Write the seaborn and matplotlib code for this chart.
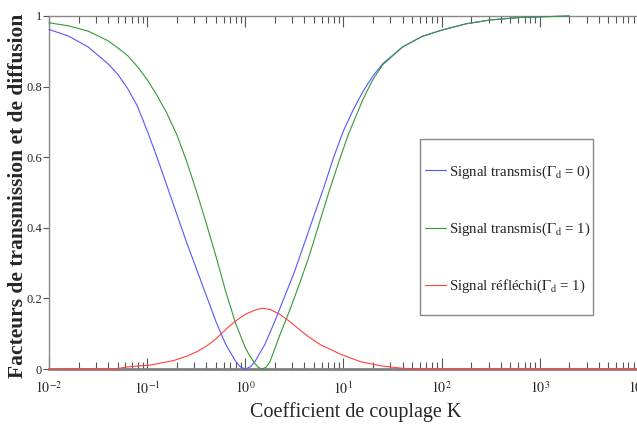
import numpy as np
import matplotlib
matplotlib.use("Agg")
import matplotlib.pyplot as plt
import seaborn as sns
from matplotlib.patches import Rectangle
from matplotlib.ticker import FixedLocator, NullFormatter

# values (x given as log10 of K)
logk_blue = [-2.0, -1.8, -1.6, -1.4, -1.3, -1.2, -1.1, -1.0, -0.9, -0.8, -0.7, -0.6,
             -0.5, -0.4, -0.3, -0.2, -0.1, -0.05, 0.0, 0.05, 0.1, 0.2, 0.3, 0.4, 0.5,
             0.6, 0.7, 0.8, 0.9, 1.0, 1.1, 1.2, 1.3, 1.4, 1.6, 1.8, 2.0, 2.25, 2.5,
             2.8, 3.3]
t_blue = [0.962, 0.943, 0.912, 0.865, 0.835, 0.795, 0.745, 0.675, 0.60, 0.52, 0.44, 0.36,
          0.285, 0.21, 0.135, 0.07, 0.022, 0.006, 0.0, 0.006, 0.022, 0.07, 0.135, 0.205,
          0.275, 0.355, 0.435, 0.515, 0.60, 0.675, 0.735, 0.787, 0.83, 0.865, 0.912,
          0.942, 0.96, 0.978, 0.989, 0.996, 1.0]

logk_green = [-2.0, -1.8, -1.6, -1.4, -1.3, -1.2, -1.1, -1.0, -0.9, -0.8, -0.7, -0.6,
              -0.5, -0.4, -0.3, -0.2, -0.1, 0.0, 0.05, 0.1, 0.13, 0.17, 0.21, 0.25,
              0.35, 0.45, 0.55, 0.65, 0.75, 0.85, 0.95, 1.05, 1.2, 1.3, 1.4, 1.6, 1.8,
              2.0, 2.25, 2.5, 2.8, 3.3]
t_green = [0.981, 0.972, 0.957, 0.930, 0.91, 0.888, 0.857, 0.82, 0.775, 0.725, 0.665,
           0.59, 0.505, 0.415, 0.32, 0.22, 0.13, 0.06, 0.035, 0.015, 0.005, 0.0, 0.005,
           0.02, 0.095, 0.165, 0.24, 0.32, 0.41, 0.50, 0.585, 0.665, 0.765, 0.82, 0.862,
           0.912, 0.942, 0.96, 0.978, 0.989, 0.996, 1.0]

logk_red = [-2.0, -1.33, -1.2, -0.97, -0.73, -0.6, -0.5, -0.4, -0.3, -0.2, -0.1, 0.0,
            0.1, 0.17, 0.25, 0.35, 0.45, 0.55, 0.65, 0.77, 0.97, 1.17, 1.38, 1.6, 1.8, 4.0]
r_red = [0.0, 0.0, 0.006, 0.011, 0.024, 0.036, 0.048, 0.064, 0.085, 0.112, 0.136, 0.155,
         0.167, 0.172, 0.169, 0.155, 0.135, 0.112, 0.09, 0.068, 0.042, 0.021, 0.009, 0.002, 0.0, 0.0]

labels = [r"Signal transmis($\Gamma_{\mathrm{d}}$ = 0)",
          r"Signal transmis($\Gamma_{\mathrm{d}}$ = 1)",
          r"Signal réfléchi($\Gamma_{\mathrm{d}}$ = 1)"]
colors = ["#5656ff", "#339a33", "#ff4040"]

sns.set_theme(style="white")
plt.rcParams["font.family"] = ["Liberation Serif", "DejaVu Serif"]
plt.rcParams["mathtext.fontset"] = "stix"

fig = plt.figure(figsize=(6.37, 4.32), dpi=100)
ax = fig.add_axes([49 / 637, 63 / 432, 589 / 637, 353 / 432])

series = [(logk_blue, t_blue), (logk_green, t_green), (logk_red, r_red)]
for (lk, vals), col, lab in zip(series, colors, labels):
    sns.lineplot(x=10 ** np.array(lk), y=vals, ax=ax, color=col, lw=0.8,
                 label=lab, sort=True)
# lines sit on top of the axis frame, like in the original
for line in ax.get_lines():
    line.set_zorder(3)
    line.set_clip_on(False)

ax.set_xscale("log")
ax.set_xlim(1e-2, 1e4)
ax.set_ylim(0, 1)

ax.xaxis.set_major_locator(FixedLocator([1e-2, 1e-1, 1, 1e1, 1e2, 1e3, 1e4]))
ax.set_xticklabels([r"$10^{-2}$", r"$10^{-1}$", r"$10^{0}$", r"$10^{1}$",
                    r"$10^{2}$", r"$10^{3}$", r"$10^{4}$"], fontsize=10)
minors = [m * 10.0 ** e for e in range(-2, 4) for m in range(2, 10)]
ax.xaxis.set_minor_locator(FixedLocator(minors))
ax.xaxis.set_minor_formatter(NullFormatter())
ax.set_yticks([0, 0.2, 0.4, 0.6, 0.8, 1])
ax.set_yticklabels(["0", "0.2", "0.4", "0.6", "0.8", "1"], fontsize=9)

ax.tick_params(axis="x", which="both", direction="in", top=True, bottom=True,
               length=5, width=0.8, color="#555555", pad=8)
ax.tick_params(axis="x", which="major", length=8)
ax.tick_params(axis="y", which="major", direction="out", left=True, right=True,
               length=4, width=0.8, color="#555555", pad=1)

for side in ["left", "top", "right"]:
    ax.spines[side].set_color("#888888")
    ax.spines[side].set_linewidth(1.0)
ax.spines["bottom"].set_color("#808080")
ax.spines["bottom"].set_linewidth(2.0)

ax.set_xlabel("Coefficient de couplage K", fontsize=14.5)
ax.xaxis.set_label_coords(0.52, -0.095)
ax.set_ylabel("Facteurs de transmission et de diffusion", fontsize=15.5, fontweight="bold")
ax.yaxis.set_label_coords(-0.036, 0.49)

# legend entries without frame, box drawn separately
leg = ax.legend(loc="upper left", bbox_to_anchor=(0.638, 0.583), borderaxespad=0,
                borderpad=0, frameon=False, fontsize=10.7, handlelength=1.45,
                handletextpad=0.2, labelspacing=2.7)
leg.set_zorder(6)
ax.add_patch(Rectangle((0.630, 0.153), 0.294, 0.499, transform=ax.transAxes,
                       fill=False, edgecolor="#888888", lw=1.0, zorder=5))

fig.savefig("out.png", dpi=100)
